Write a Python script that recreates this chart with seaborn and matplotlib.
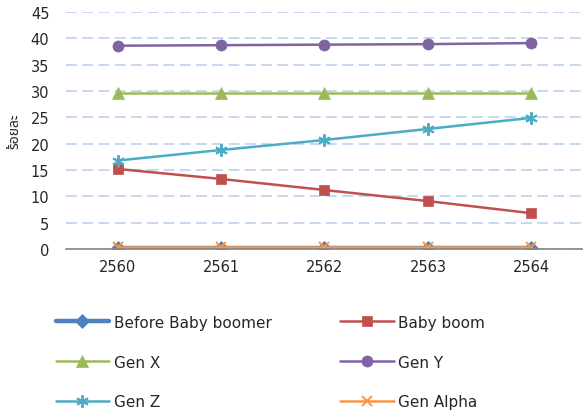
import matplotlib
matplotlib.use("Agg")
import matplotlib.pyplot as plt
import matplotlib.ticker as mticker
import seaborn as sns
import pandas as pd

# data
years = [2560, 2561, 2562, 2563, 2564]
before_baby_boomer = [0.2, 0.2, 0.2, 0.2, 0.2]
baby_boom = [15.2, 13.3, 11.2, 9.1, 6.8]
gen_x = [29.6, 29.6, 29.6, 29.6, 29.6]
gen_y = [38.6, 38.7, 38.8, 38.9, 39.1]
gen_z = [16.8, 18.8, 20.7, 22.8, 24.9]
gen_alpha = [0.3, 0.3, 0.3, 0.3, 0.3]

series = [
    ("Before Baby boomer", before_baby_boomer, "#4f81bd", "D", 3.2, 7),
    ("Baby boom", baby_boom, "#c0504d", "s", 1.8, 7),
    ("Gen X", gen_x, "#9bbb59", "^", 1.8, 8),
    ("Gen Y", gen_y, "#8064a2", "o", 1.8, 8),
    ("Gen Z", gen_z, "#4bacc6", (6, 2, 0), 1.8, 9),
    ("Gen Alpha", gen_alpha, "#f79646", "x", 1.8, 7),
]

sns.set_theme(style="white")
plt.rcParams['font.family'] = ['DejaVu Sans']

fig = plt.figure(figsize=(5.83, 4.14), dpi=100)
ax = fig.add_axes([66 / 583, 1 - 250 / 414, 517 / 583, 237 / 414])

handles = {}
for name, vals, col, mk, lw, ms in series:
    df = pd.DataFrame({"year": years, "value": vals})
    sns.lineplot(data=df, x="year", y="value", ax=ax, color=col, marker=mk,
                 markersize=ms, linewidth=lw, markeredgecolor=col,
                 markeredgewidth=1.4 if mk in ("x", (6, 2, 0)) else 0.5,
                 label=name, legend=False)
    handles[name] = ax.lines[-1]

ax.set_xlim(2559.5, 2559.5 + 517 / 105)
ax.set_ylim(0, 45)
ax.yaxis.set_major_locator(mticker.MultipleLocator(5))
ax.set_xticks(years)
ax.set_xticks([2559.5 + i for i in range(6)], minor=True)
ax.tick_params(axis="x", which="major", length=0, labelsize=10.5, pad=7)
ax.tick_params(axis="x", which="minor", length=4, color="#868686", width=1, direction="out")
ax.tick_params(axis="y", length=0, labelsize=10.5, pad=12)

ax.grid(axis="y", color="#c0d5ef", linestyle=(0, (6, 3)), linewidth=1.3)
ax.set_axisbelow(True)
for s in ["top", "right", "left"]:
    ax.spines[s].set_visible(False)
ax.spines["bottom"].set_color("#868686")
ax.spines["bottom"].set_linewidth(1.2)
ax.set_xlabel("")
ax.set_ylabel("ร้อยละ", fontsize=10, fontweight="bold",
              family=["Noto Sans Thai", "Noto Serif Thai", "Loma", "Garuda", "Tlwg Typo", "DejaVu Sans"])
ax.yaxis.set_label_coords(-0.085, 0.5)

order = ["Before Baby boomer", "Gen X", "Gen Z", "Baby boom", "Gen Y", "Gen Alpha"]
fig.legend([handles[n] for n in order], order, ncol=2, loc="upper left",
           bbox_to_anchor=(42 / 583, 1 - 302 / 414), frameon=False,
           fontsize=11, handlelength=3.5, labelspacing=1.62,
           columnspacing=4.5, handletextpad=0.3)

fig.savefig("out.png", dpi=100)
